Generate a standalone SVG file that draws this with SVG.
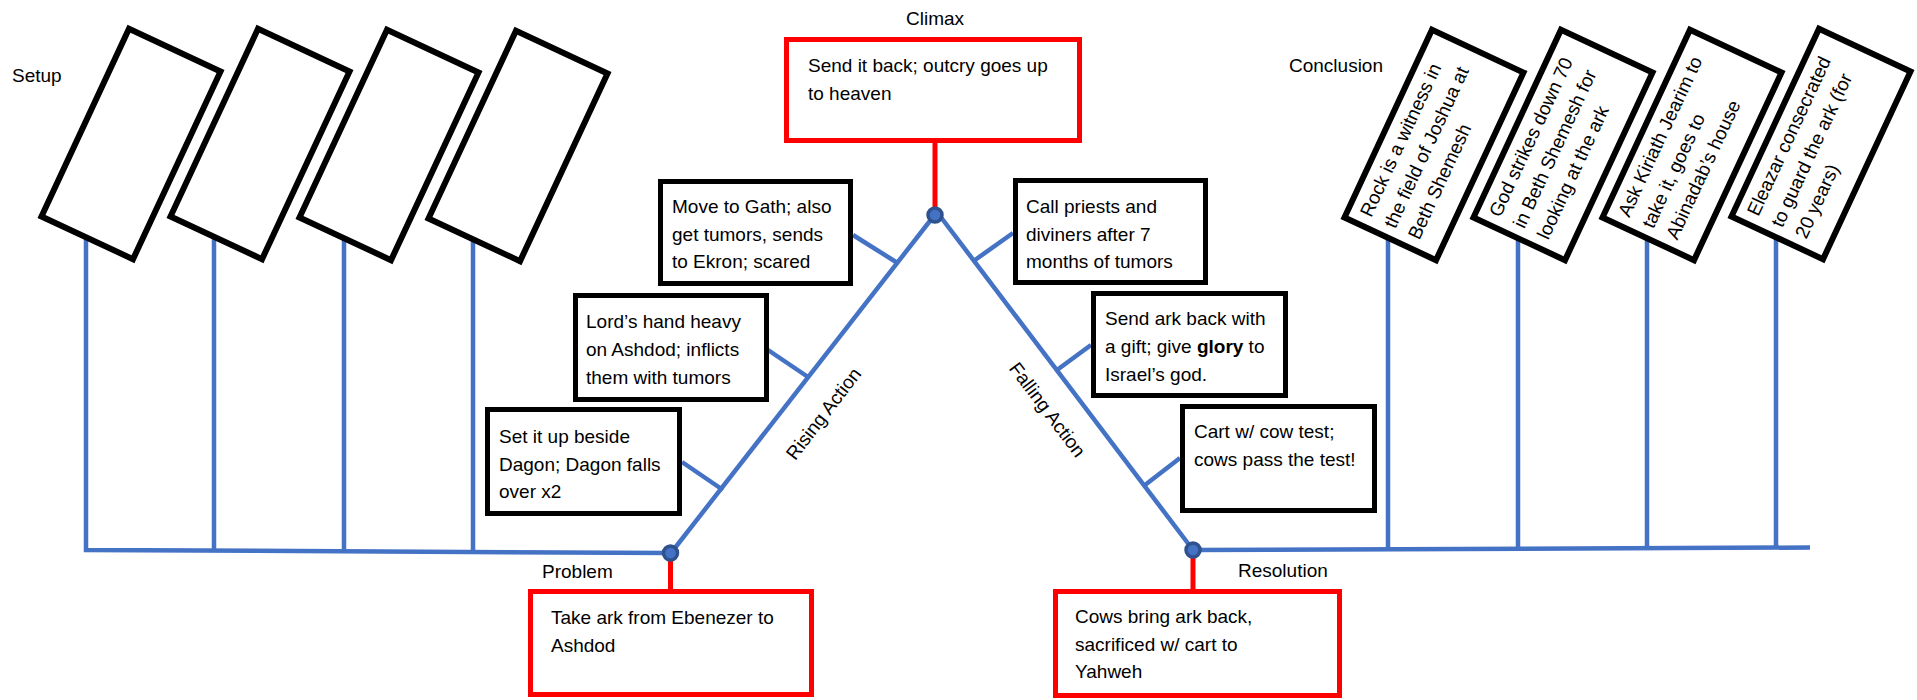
<svg xmlns="http://www.w3.org/2000/svg" width="1917" height="700" viewBox="0 0 1917 700">
<style>
.t{font-family:"Liberation Sans",Arial,sans-serif;font-size:19px;fill:#000}
.b{font-weight:bold}
.bx{fill:#fff;stroke:#000;stroke-width:5}
.rb{fill:#fff;stroke:#FF0000;stroke-width:5}
.sb{fill:#fff;stroke:#000;stroke-width:6}
.ln{stroke:#4472C4;stroke-width:4.5;fill:none;stroke-linecap:butt}
.rl{stroke:#FF0000;stroke-width:5;fill:none}
.nd{fill:#4472C4;stroke:#2F528F;stroke-width:3.5}
</style>
<rect width="1917" height="700" fill="#fff"/>
<g id="connectors">
  <polyline class="ln" points="86,236 86,550 670,553"/>
  <line class="ln" x1="214" y1="236" x2="214" y2="551"/>
  <line class="ln" x1="344" y1="236" x2="344" y2="552"/>
  <line class="ln" x1="473" y1="236" x2="473" y2="552"/>
  <line class="ln" x1="1193" y1="550" x2="1810" y2="547.5"/>
  <line class="ln" x1="1388" y1="236" x2="1388" y2="549"/>
  <line class="ln" x1="1518" y1="236" x2="1518" y2="549"/>
  <line class="ln" x1="1647" y1="236" x2="1647" y2="548"/>
  <line class="ln" x1="1776" y1="236" x2="1776" y2="548"/>
  <line class="ln" x1="671" y1="553" x2="933" y2="217"/>
  <line class="ln" x1="940" y1="216" x2="1193" y2="550"/>
  <line class="ln" x1="853" y1="235" x2="896" y2="262"/>
  <line class="ln" x1="768" y1="350" x2="808" y2="377"/>
  <line class="ln" x1="682" y1="462" x2="723" y2="490"/>
  <line class="ln" x1="1013" y1="233" x2="975" y2="260"/>
  <line class="ln" x1="1091" y1="345" x2="1057" y2="370"/>
  <line class="ln" x1="1180" y1="458" x2="1145" y2="485"/>
  <line class="rl" x1="935" y1="142" x2="935" y2="215"/>
  <line class="rl" x1="670.5" y1="553" x2="670.5" y2="590"/>
  <line class="rl" x1="1193" y1="550" x2="1193" y2="590"/>
</g>

<g id="node-climax-point"><circle class="nd" cx="935" cy="215" r="7"/></g>
<g id="node-problem-point"><circle class="nd" cx="670.5" cy="553" r="7"/></g>
<g id="node-resolution-point"><circle class="nd" cx="1193" cy="550" r="7"/></g>

<g id="label-setup"><text class="t" x="12" y="82">Setup</text></g>
<g id="label-conclusion"><text class="t" x="1289" y="72">Conclusion</text></g>
<g id="label-climax"><text class="t" x="935" y="25" text-anchor="middle">Climax</text></g>
<g id="label-problem"><text class="t" x="542" y="578">Problem</text></g>
<g id="label-resolution"><text class="t" x="1238" y="577">Resolution</text></g>
<g id="label-rising"><text class="t" transform="translate(824,414) rotate(-52.5)" x="0" y="6" text-anchor="middle">Rising Action</text></g>
<g id="label-falling"><text class="t" transform="translate(1047,410) rotate(53)" x="0" y="6" text-anchor="middle">Falling Action</text></g>

<g id="setup-1" transform="translate(131,144) rotate(25)"><rect class="sb" x="-50.5" y="-103.5" width="101" height="207"/></g>
<g id="setup-2" transform="translate(260,144) rotate(25)"><rect class="sb" x="-50.5" y="-103.5" width="101" height="207"/></g>
<g id="setup-3" transform="translate(389,145) rotate(25)"><rect class="sb" x="-50.5" y="-103.5" width="101" height="207"/></g>
<g id="setup-4" transform="translate(518,146) rotate(25)"><rect class="sb" x="-50.5" y="-103.5" width="101" height="207"/></g>

<g id="conclusion-1" transform="translate(1434,145) rotate(25)"><rect class="sb" x="-50.5" y="-103.5" width="101" height="207"/>
  <g transform="rotate(-90)"><text class="t" x="-93" y="-26">Rock is a witness in</text><text class="t" x="-93" y="0.5">the field of Joshua at</text><text class="t" x="-93" y="27">Beth Shemesh</text></g></g>
<g id="conclusion-2" transform="translate(1563,145) rotate(25)"><rect class="sb" x="-50.5" y="-103.5" width="101" height="207"/>
  <g transform="rotate(-90)"><text class="t" x="-93" y="-26">God strikes down 70</text><text class="t" x="-93" y="0.5">in Beth Shemesh for</text><text class="t" x="-93" y="27">looking at the ark</text></g></g>
<g id="conclusion-3" transform="translate(1692,145) rotate(25)"><rect class="sb" x="-50.5" y="-103.5" width="101" height="207"/>
  <g transform="rotate(-90)"><text class="t" x="-93" y="-26">Ask Kiriath Jearim to</text><text class="t" x="-93" y="0.5">take it, goes to</text><text class="t" x="-93" y="27">Abinadab’s house</text></g></g>
<g id="conclusion-4" transform="translate(1821,144) rotate(25)"><rect class="sb" x="-50.5" y="-103.5" width="101" height="207"/>
  <g transform="rotate(-90)"><text class="t" x="-93" y="-26">Eleazar consecrated</text><text class="t" x="-93" y="0.5">to guard the ark (for</text><text class="t" x="-93" y="27">20 years)</text></g></g>

<g id="climax"><rect class="rb" x="786.5" y="39.5" width="293" height="101"/>
  <text class="t" x="808" y="72">Send it back; outcry goes up</text><text class="t" x="808" y="99.5">to heaven</text></g>
<g id="problem"><rect class="rb" x="530.5" y="591.5" width="281" height="103"/>
  <text class="t" x="551" y="624">Take ark from Ebenezer to</text><text class="t" x="551" y="652">Ashdod</text></g>
<g id="resolution"><rect class="rb" x="1055.5" y="591.5" width="284" height="104"/>
  <text class="t" x="1075" y="623">Cows bring ark back,</text><text class="t" x="1075" y="651">sacrificed w/ cart to</text><text class="t" x="1075" y="678">Yahweh</text></g>

<g id="rising-3"><rect class="bx" x="660.5" y="181.5" width="190" height="102"/>
  <text class="t" x="672" y="213">Move to Gath; also</text><text class="t" x="672" y="241">get tumors, sends</text><text class="t" x="672" y="268">to Ekron; scared</text></g>
<g id="rising-2"><rect class="bx" x="575.5" y="295.5" width="191" height="104"/>
  <text class="t" x="586" y="328">Lord’s hand heavy</text><text class="t" x="586" y="356">on Ashdod; inflicts</text><text class="t" x="586" y="384">them with tumors</text></g>
<g id="rising-1"><rect class="bx" x="487.5" y="409.5" width="192" height="104"/>
  <text class="t" x="499" y="443">Set it up beside</text><text class="t" x="499" y="471">Dagon; Dagon falls</text><text class="t" x="499" y="498">over x2</text></g>

<g id="falling-1"><rect class="bx" x="1015.5" y="180.5" width="190" height="102"/>
  <text class="t" x="1026" y="213">Call priests and</text><text class="t" x="1026" y="241">diviners after 7</text><text class="t" x="1026" y="268">months of tumors</text></g>
<g id="falling-2"><rect class="bx" x="1093.5" y="293.5" width="192" height="102"/>
  <text class="t" x="1105" y="325">Send ark back with</text><text class="t" x="1105" y="353">a gift; give <tspan class="b">glory</tspan> to</text><text class="t" x="1105" y="381">Israel’s god.</text></g>
<g id="falling-3"><rect class="bx" x="1182.5" y="406.5" width="192" height="104"/>
  <text class="t" x="1194" y="438">Cart w/ cow test;</text><text class="t" x="1194" y="466">cows pass the test!</text></g>
</svg>
